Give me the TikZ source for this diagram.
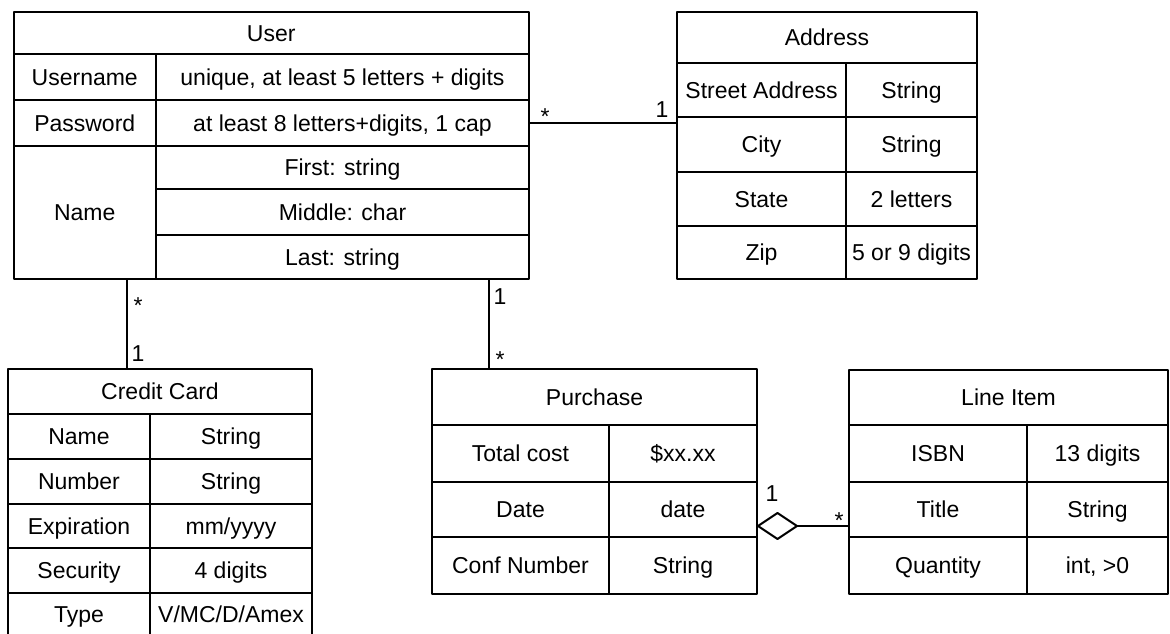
\documentclass[tikz,border=0pt]{standalone}
\usepackage{fontspec}
\setmainfont{Liberation Sans}
\usetikzlibrary{shapes.geometric}

\begin{document}
\begin{tikzpicture}[x=0.5pt, y=-0.5pt, line join=round,
  cell/.style={draw, line width=1pt, inner sep=0pt, outer sep=0pt, anchor=north west, text height=8.2pt, text depth=0pt, font=\fontsize{11.5}{13}\selectfont},
  mult/.style={anchor=base, inner sep=0pt, font=\fontsize{11.5}{13}\selectfont},
  link/.style={line width=1pt},
  agg/.style={diamond, draw, fill=white, line width=1pt, inner sep=0pt, outer sep=0pt, minimum width=19.5pt, minimum height=13pt, anchor=west}]

\useasboundingbox (0,0) rectangle (1170,633);

% User
\node[cell, minimum width=257.75pt, minimum height=21pt] (uHead) at (13.5,12) {User};
\node[cell, minimum width=71.25pt, minimum height=23pt] (uUserK) at (uHead.south west) {Username};
\node[cell, minimum width=186.5pt, minimum height=23pt] (uUserV) at (uUserK.north east) {unique, at least 5 letters + digits};
\node[cell, minimum width=71.25pt, minimum height=23pt] (uPassK) at (uUserK.south west) {Password};
\node[cell, minimum width=186.5pt, minimum height=23pt] (uPassV) at (uPassK.north east) {at least 8 letters+digits, 1 cap};
\node[cell, minimum width=71.25pt, minimum height=66.5pt] (uNameK) at (uPassK.south west) {Name};
\node[cell, minimum width=186.5pt, minimum height=21.5pt] (uFirst) at (uNameK.north east) {First: string};
\node[cell, minimum width=186.5pt, minimum height=23pt] (uMiddle) at (uFirst.south west) {Middle: char};
\node[cell, minimum width=186.5pt, minimum height=22pt] (uLast) at (uMiddle.south west) {Last: string};

% Address
\node[cell, minimum width=150pt, minimum height=25.5pt] (aHead) at (677,12) {Address};
\node[cell, minimum width=84.5pt, minimum height=27pt] (aStreetK) at (aHead.south west) {Street Address};
\node[cell, minimum width=65.5pt, minimum height=27pt] (aStreetV) at (aStreetK.north east) {String};
\node[cell, minimum width=84.5pt, minimum height=27.5pt] (aCityK) at (aStreetK.south west) {City};
\node[cell, minimum width=65.5pt, minimum height=27.5pt] (aCityV) at (aCityK.north east) {String};
\node[cell, minimum width=84.5pt, minimum height=27pt] (aStateK) at (aCityK.south west) {State};
\node[cell, minimum width=65.5pt, minimum height=27pt] (aStateV) at (aStateK.north east) {2 letters};
\node[cell, minimum width=84.5pt, minimum height=26.5pt] (aZipK) at (aStateK.south west) {Zip};
\node[cell, minimum width=65.5pt, minimum height=26.5pt] (aZipV) at (aZipK.north east) {5 or 9 digits};

% Credit Card
\node[cell, minimum width=152pt, minimum height=22.5pt] (cHead) at (8,369) {Credit Card};
\node[cell, minimum width=71pt, minimum height=22.5pt] (cNameK) at (cHead.south west) {Name};
\node[cell, minimum width=81pt, minimum height=22.5pt] (cNameV) at (cNameK.north east) {String};
\node[cell, minimum width=71pt, minimum height=22.5pt] (cNumK) at (cNameK.south west) {Number};
\node[cell, minimum width=81pt, minimum height=22.5pt] (cNumV) at (cNumK.north east) {String};
\node[cell, minimum width=71pt, minimum height=22pt] (cExpK) at (cNumK.south west) {Expiration};
\node[cell, minimum width=81pt, minimum height=22pt] (cExpV) at (cExpK.north east) {mm/yyyy};
\node[cell, minimum width=71pt, minimum height=22.5pt] (cSecK) at (cExpK.south west) {Security};
\node[cell, minimum width=81pt, minimum height=22.5pt] (cSecV) at (cSecK.north east) {4 digits};
\node[cell, minimum width=71pt, minimum height=21pt] (cTypeK) at (cSecK.south west) {Type};
\node[cell, minimum width=81pt, minimum height=21pt] (cTypeV) at (cTypeK.north east) {V/MC/D/Amex};

% Purchase
\node[cell, minimum width=162.5pt, minimum height=28pt] (pHead) at (432,369) {Purchase};
\node[cell, minimum width=88.5pt, minimum height=28.5pt] (pCostK) at (pHead.south west) {Total cost};
\node[cell, minimum width=74pt, minimum height=28.5pt] (pCostV) at (pCostK.north east) {\$xx.xx};
\node[cell, minimum width=88.5pt, minimum height=27.5pt] (pDateK) at (pCostK.south west) {Date};
\node[cell, minimum width=74pt, minimum height=27.5pt] (pDateV) at (pDateK.north east) {date};
\node[cell, minimum width=88.5pt, minimum height=28.5pt] (pConfK) at (pDateK.south west) {Conf Number};
\node[cell, minimum width=74pt, minimum height=28.5pt] (pConfV) at (pConfK.north east) {String};

% Line Item
\node[cell, minimum width=159.5pt, minimum height=27.5pt] (lHead) at (849,370) {Line Item};
\node[cell, minimum width=89pt, minimum height=28.5pt] (lIsbnK) at (lHead.south west) {ISBN};
\node[cell, minimum width=70.5pt, minimum height=28.5pt] (lIsbnV) at (lIsbnK.north east) {13 digits};
\node[cell, minimum width=89pt, minimum height=27.5pt] (lTitleK) at (lIsbnK.south west) {Title};
\node[cell, minimum width=70.5pt, minimum height=27.5pt] (lTitleV) at (lTitleK.north east) {String};
\node[cell, minimum width=89pt, minimum height=28.5pt] (lQtyK) at (lTitleK.south west) {Quantity};
\node[cell, minimum width=70.5pt, minimum height=28.5pt] (lQtyV) at (lQtyK.north east) {int, >0};

% associations
\draw[link] (uPassV.east) -- (uPassV.east -| aCityK.west);
\node[mult] (mUserAddr) at (545,124) {*};
\node[mult] (mAddrUser) at (662,117) {1};

\coordinate (ccTop) at (127,279);
\draw[link] (ccTop) -- (ccTop |- cHead.north);
\node[mult] (mUserCard) at (138,313) {*};
\node[mult] (mCardUser) at (138,361) {1};

\coordinate (puTop) at (489,279);
\draw[link] (puTop) -- (puTop |- pHead.north);
\node[mult] (mUserBuy) at (500,304) {1};
\node[mult] (mBuyUser) at (500,367) {*};

\node[agg] (pAgg) at (758,526) {};
\draw[link] (pAgg.east) -- (pAgg.east -| lHead.west);
\node[mult] (mBuyItem) at (772,501) {1};
\node[mult] (mItemBuy) at (839,528) {*};

\end{tikzpicture}
\end{document}
